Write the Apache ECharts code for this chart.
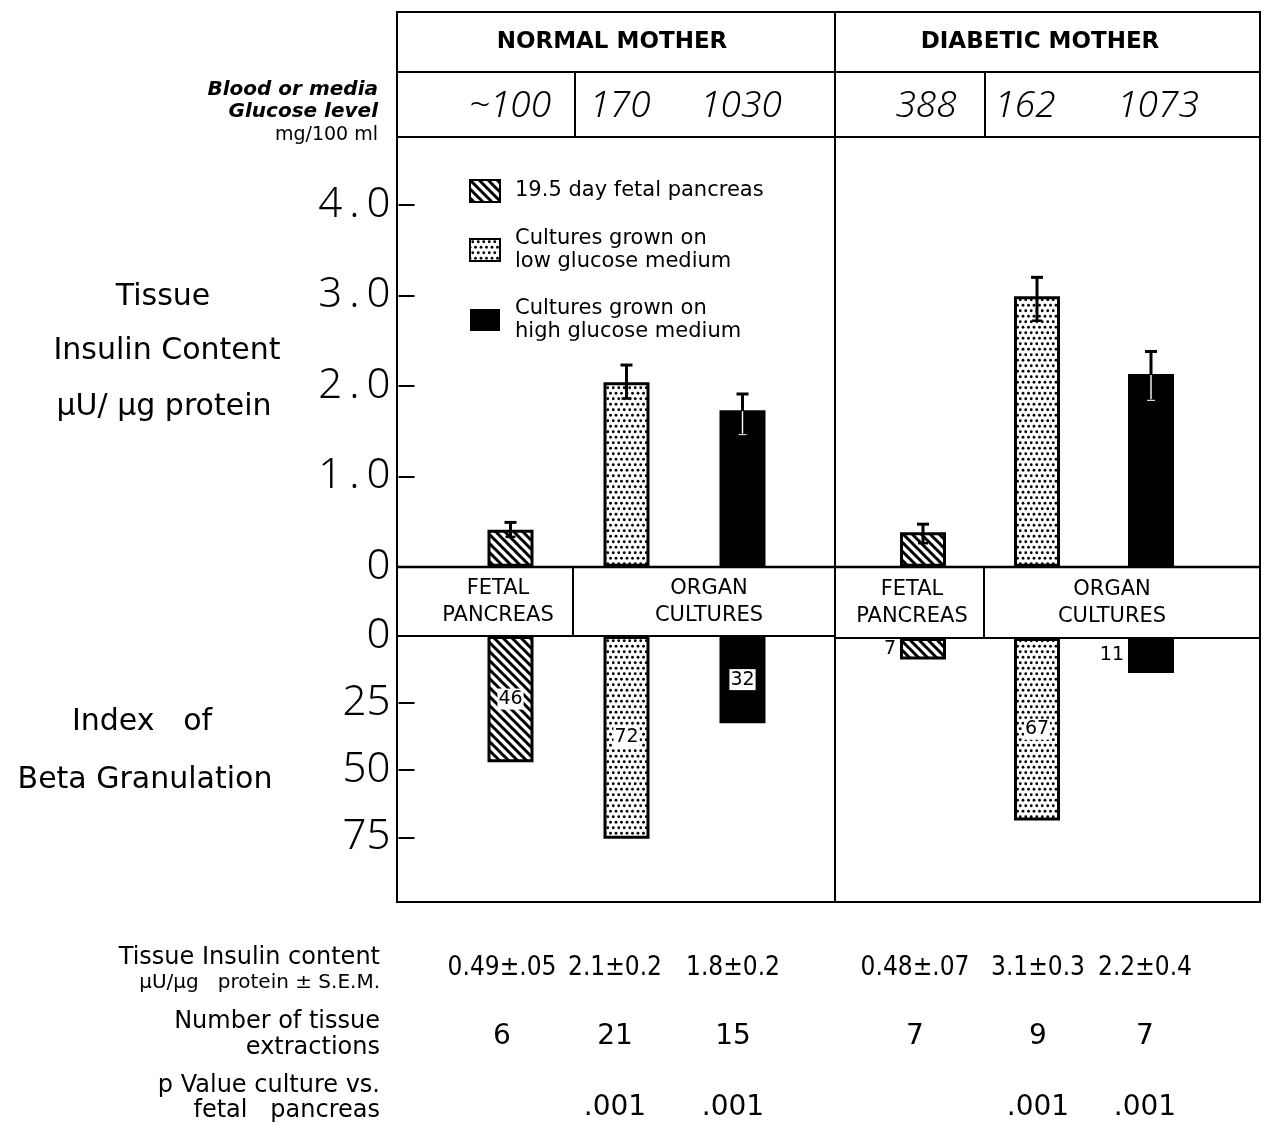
<!DOCTYPE html>
<html>
<head>
<meta charset="utf-8">
<script src="https://cdn.jsdelivr.net/npm/echarts@6/dist/echarts.min.js"></script>
<style>
html, body { margin: 0; padding: 0; background: #fff; }
#main { width: 1265px; height: 1128px; }
</style>
</head>
<body>
<div id="main"></div>
<script>
// ---- data ----
var groups = ['NORMAL MOTHER', 'DIABETIC MOTHER'];
var glucoseNormal = ['~100', '170', '1030'];
var glucoseDiabetic = ['388', '162', '1073'];
var seriesNames = ['19.5 day fetal pancreas', 'Cultures grown on\nlow glucose medium', 'Cultures grown on\nhigh glucose medium'];
var categories = ['fetal', 'low', 'high'];

// tissue insulin content (bar = mean, whisker low / high)
var insulinNormal = [0.41, 2.04, 1.73];
var insulinDiabetic = [0.38, 2.99, 2.13];
var errLowNormal = [0.33, 1.86, 1.46];
var errHighNormal = [0.49, 2.23, 1.91];
var errLowDiabetic = [0.26, 2.72, 1.84];
var errHighDiabetic = [0.47, 3.20, 2.38];

// index of beta granulation (drawn length + printed label)
var granNormal = [47, 75.5, 32.5];
var granDiabetic = [8, 68, 13];
var granLabelsNormal = ['46', '72', '32'];
var granLabelsDiabetic = ['7', '67', '11'];

// table under the chart
var tableInsulin = ['0.49\u00b1.05', '2.1\u00b10.2', '1.8\u00b10.2', '0.48\u00b1.07', '3.1\u00b10.3', '2.2\u00b10.4'];
var tableN = ['6', '21', '15', '7', '9', '7'];
var tablePValue = ['', '.001', '.001', '', '.001', '.001'];

var FONT = '"DejaVu Sans", "Noto Sans", sans-serif';
var NUM_FONT = '"Noto Sans", "DejaVu Sans", sans-serif';
var COND_FONT = '"DejaVu Sans Condensed", "Liberation Sans Narrow", "DejaVu Sans", sans-serif';

function makeHatch() {
  var c = document.createElement('canvas');
  c.width = c.height = 9;
  var g = c.getContext('2d');
  g.fillStyle = '#fff';
  g.fillRect(0, 0, 9, 9);
  g.strokeStyle = '#000';
  g.lineWidth = 3;
  g.beginPath();
  for (var k = -9; k <= 9; k += 9) {
    g.moveTo(k - 2, -2);
    g.lineTo(k + 11, 11);
  }
  g.stroke();
  return { image: c, repeat: 'repeat' };
}
function makeDots() {
  var c = document.createElement('canvas');
  c.width = c.height = 11;
  var g = c.getContext('2d');
  g.fillStyle = '#fff';
  g.fillRect(0, 0, 11, 11);
  g.fillStyle = '#000';
  var pts = [[2.75, 2.75], [8.25, 2.75], [0, 8.25], [5.5, 8.25], [11, 8.25]];
  pts.forEach(function (p) {
    g.beginPath();
    g.arc(p[0], p[1], 1.4, 0, Math.PI * 2);
    g.fill();
  });
  return { image: c, repeat: 'repeat' };
}
var fills = [makeHatch(), makeDots(), '#000'];

function barSeries(t, gi, values, labels) {
  var data = values.map(function (v, i) {
    if (i !== t) return '-';
    var item = { value: v };
    if (labels) {
      var outside = gi === 3 && (i === 0 || i === 2);
      item.label = {
        show: true,
        position: outside ? 'left' : 'inside',
        distance: 3,
        formatter: labels[i],
        color: '#000',
        fontSize: 19,
        fontFamily: FONT,
        backgroundColor: outside ? 'transparent' : '#fff',
        padding: [1, 1]
      };
    }
    return item;
  });
  return {
    type: 'bar',
    name: seriesNames[t],
    xAxisIndex: gi,
    yAxisIndex: gi,
    barWidth: 46,
    barGap: '-100%',
    data: data,
    itemStyle: { color: fills[t], borderColor: '#000', borderWidth: t === 2 ? 0 : 3 }
  };
}

function renderErr(params, api) {
  var i = api.value(0);
  var lo = api.coord([i, api.value(1)]);
  var hi = api.coord([i, api.value(2)]);
  var mid = api.coord([i, api.value(3)]);
  var children = [
    { type: 'line', shape: { x1: hi[0], y1: hi[1], x2: lo[0], y2: lo[1] }, style: { stroke: '#000', lineWidth: 3 } },
    { type: 'line', shape: { x1: hi[0] - 6, y1: hi[1], x2: hi[0] + 6, y2: hi[1] }, style: { stroke: '#000', lineWidth: 3 } },
    { type: 'line', shape: { x1: lo[0] - 5, y1: lo[1], x2: lo[0] + 5, y2: lo[1] }, style: { stroke: '#000', lineWidth: 2.5 } }
  ];
  if (i === 2) {
    children.push({ type: 'line', shape: { x1: mid[0], y1: mid[1] + 1, x2: lo[0], y2: lo[1] - 1 }, style: { stroke: '#fff', lineWidth: 1.4 } });
    children.push({ type: 'line', shape: { x1: lo[0] - 4, y1: lo[1], x2: lo[0] + 4, y2: lo[1] }, style: { stroke: '#fff', lineWidth: 1 } });
  }
  return { type: 'group', children: children };
}
function errSeries(gi, mean, low, high) {
  return {
    type: 'custom',
    xAxisIndex: gi,
    yAxisIndex: gi,
    z: 5,
    renderItem: renderErr,
    data: mean.map(function (m, i) { return [i, low[i], high[i], m]; })
  };
}

function txt(x, y, s, size, opt) {
  opt = opt || {};
  return {
    type: 'text', x: x, y: y, z: 10,
    style: {
      text: s, fill: '#000', fontSize: size, fontFamily: opt.font || FONT,
      fontWeight: opt.weight || 'normal', fontStyle: opt.italic ? 'italic' : 'normal',
      align: opt.align || 'center', verticalAlign: 'middle', lineHeight: opt.lh
    }
  };
}
function ln(x1, y1, x2, y2, w) {
  return { type: 'line', z: 10, shape: { x1: x1, y1: y1, x2: x2, y2: y2 }, style: { stroke: '#000', lineWidth: w || 2 } };
}

var graphics = [
  { type: 'rect', z: 10, shape: { x: 397, y: 12, width: 863, height: 890 }, style: { fill: null, stroke: '#000', lineWidth: 2 } },
  ln(397, 72, 1260, 72), ln(397, 137, 1260, 137), ln(835, 12, 835, 902),
  ln(575, 72, 575, 137), ln(985, 72, 985, 137),
  ln(397, 567, 1260, 567, 2.5), ln(397, 636, 835, 636), ln(835, 638, 1260, 638),
  ln(573, 567, 573, 636), ln(984, 567, 984, 638),
  txt(612, 42, groups[0], 23, { weight: 'bold' }),
  txt(1040, 42, groups[1], 23, { weight: 'bold' }),
  txt(378, 90, 'Blood or media', 20, { italic: true, weight: 'bold', align: 'right' }),
  txt(378, 112, 'Glucose level', 20, { italic: true, weight: 'bold', align: 'right' }),
  txt(378, 135, 'mg/100 ml', 19, { align: 'right' }),
  txt(498, 602, 'FETAL\nPANCREAS', 21, { lh: 27 }),
  txt(709, 602, 'ORGAN\nCULTURES', 21, { lh: 27 }),
  txt(912, 603, 'FETAL\nPANCREAS', 21, { lh: 27 }),
  txt(1112, 603, 'ORGAN\nCULTURES', 21, { lh: 27 }),
  txt(163, 297, 'Tissue', 30),
  txt(167, 351, 'Insulin Content', 30),
  txt(164, 407, '\u03bcU/ \u03bcg protein', 30),
  txt(142, 722, 'Index   of', 30),
  txt(145, 780, 'Beta Granulation', 30),
  txt(380, 958, 'Tissue Insulin content', 24, { align: 'right' }),
  txt(380, 983, '\u03bcU/\u03bcg   protein \u00b1 S.E.M.', 20, { align: 'right' }),
  txt(380, 1022, 'Number of tissue', 24, { align: 'right' }),
  txt(380, 1048, 'extractions', 24, { align: 'right' }),
  txt(380, 1086, 'p Value culture vs.', 24, { align: 'right' }),
  txt(380, 1111, 'fetal   pancreas', 24, { align: 'right' })
];
var glucoseX = [510, 620, 741, 926, 1025, 1158];
glucoseNormal.concat(glucoseDiabetic).forEach(function (s, i) {
  graphics.push(txt(glucoseX[i], 106, s, 37, { italic: true, weight: 300, font: NUM_FONT }));
});
var tableX = [502, 615, 733, 915, 1038, 1145];
tableX.forEach(function (x, i) {
  graphics.push(txt(x, 968, tableInsulin[i], 26, { font: COND_FONT }));
  graphics.push(txt(x, 1037, tableN[i], 28));
  if (tablePValue[i]) graphics.push(txt(x, 1108, tablePValue[i], 28));
});

var upperLabel = { show: true, fontSize: 42, fontWeight: 300, fontFamily: NUM_FONT, color: '#000', margin: 8,
  formatter: function (v) { return v === 0 ? '0' : v.toFixed(1).replace('.', '\u2009.\u2009'); } };
var lowerLabel = { show: true, fontSize: 42, fontWeight: 300, fontFamily: NUM_FONT, color: '#000', margin: 8, showMaxLabel: false };
var tick = { show: true, inside: true, length: 16, lineStyle: { color: '#000', width: 2 } };

var option = {
  backgroundColor: '#fff',
  animation: false,
  legend: {
    orient: 'vertical', left: 464, top: 174, itemWidth: 30, itemHeight: 22, itemGap: 24,
    selectedMode: false, icon: 'rect',
    data: seriesNames,
    textStyle: { fontSize: 21, fontFamily: FONT, color: '#000', lineHeight: 23, padding: [0, 0, 0, 10] }
  },
  graphic: graphics,
  grid: [
    { left: 452.5, width: 348, top: 205, height: 361.7 },
    { left: 866, width: 342, top: 205, height: 361.7 },
    { left: 452.5, width: 348, top: 636, height: 265.7 },
    { left: 866, width: 342, top: 638, height: 265.7 }
  ],
  xAxis: [0, 1, 2, 3].map(function (g) {
    return { type: 'category', gridIndex: g, data: categories, show: false };
  }),
  yAxis: [
    { type: 'value', gridIndex: 0, min: 0, max: 4, interval: 1, offset: 54, axisLine: { show: false }, axisTick: tick, axisLabel: upperLabel, splitLine: { show: false } },
    { type: 'value', gridIndex: 1, min: 0, max: 4, interval: 1, show: false, splitLine: { show: false } },
    { type: 'value', gridIndex: 2, min: 0, max: 99, interval: 25, inverse: true, offset: 54, axisLine: { show: false }, axisTick: tick, axisLabel: lowerLabel, splitLine: { show: false } },
    { type: 'value', gridIndex: 3, min: 0, max: 99, interval: 25, inverse: true, show: false, splitLine: { show: false } }
  ],
  series: []
};
[0, 1, 2].forEach(function (t) {
  option.series.push(barSeries(t, 0, insulinNormal));
  option.series.push(barSeries(t, 1, insulinDiabetic));
  option.series.push(barSeries(t, 2, granNormal, granLabelsNormal));
  option.series.push(barSeries(t, 3, granDiabetic, granLabelsDiabetic));
});
option.series.push(errSeries(0, insulinNormal, errLowNormal, errHighNormal));
option.series.push(errSeries(1, insulinDiabetic, errLowDiabetic, errHighDiabetic));

var chart = echarts.init(document.getElementById('main'));
chart.setOption(option);
</script>
</body>
</html>
